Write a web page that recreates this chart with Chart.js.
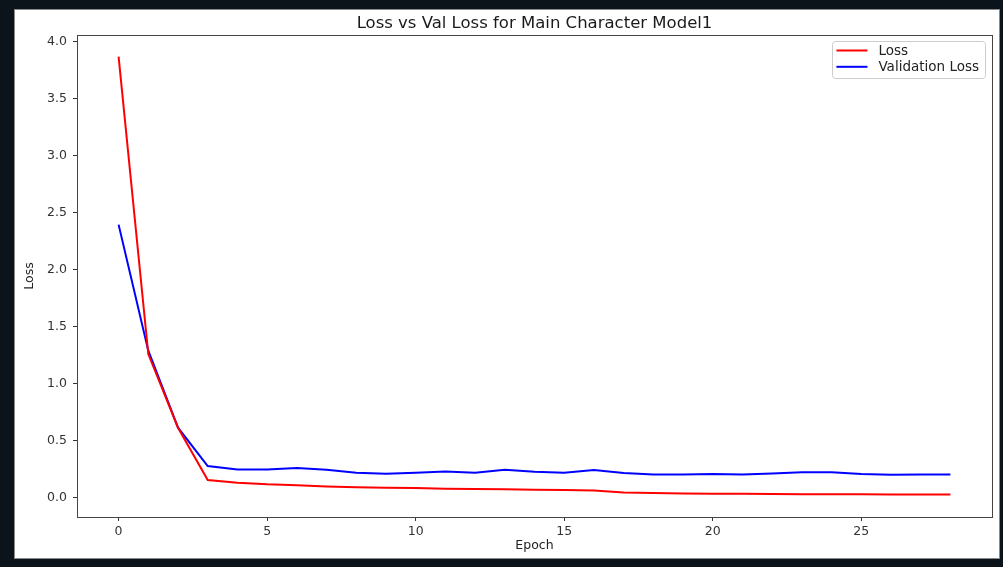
<!DOCTYPE html>
<html><head><meta charset="utf-8">
<script src="https://cdn.jsdelivr.net/npm/chart.js@4.4.1/dist/chart.umd.min.js"></script>
<style>
html,body{margin:0;padding:0;background:#0b141b;width:1003px;height:567px;overflow:hidden}
#frame{position:absolute;left:14px;top:9px;width:986px;height:550px;background:#fff;box-shadow:inset 0 0 0 1px #8a8a8a}
#c{position:absolute;left:14px;top:9px}
</style></head><body>
<div id="frame"></div>
<canvas id="c" width="986" height="550"></canvas>
<script>
const epochs = [0,1,2,3,4,5,6,7,8,9,10,11,12,13,14,15,16,17,18,19,20,21,22,23,24,25,26,27,28];
const loss = [3.866,1.26,0.615,0.157,0.134,0.119,0.112,0.100,0.093,0.089,0.086,0.081,0.078,0.075,0.072,0.069,0.066,0.048,0.043,0.039,0.037,0.036,0.034,0.033,0.033,0.032,0.031,0.030,0.030];
const valLoss = [2.394,1.29,0.615,0.279,0.250,0.250,0.262,0.247,0.221,0.212,0.221,0.232,0.221,0.247,0.230,0.221,0.244,0.218,0.206,0.206,0.209,0.206,0.215,0.224,0.224,0.209,0.203,0.205,0.206];
const xTicks = [0,5,10,15,20,25];
const yTicks = [0,0.5,1.0,1.5,2.0,2.5,3.0,3.5,4.0];
const seriesNames = ['Loss','Validation Loss'];
const titleText = 'Loss vs Val Loss for Main Character Model1';

const FONT = "'DejaVu Sans', sans-serif";

const framePlugin = {
  id: 'frame',
  afterDraw(chart) {
    const {ctx, chartArea: ca} = chart;
    ctx.save();
    ctx.strokeStyle = '#444';
    ctx.lineWidth = 1;
    ctx.strokeRect(Math.round(ca.left) + 0.5, Math.round(ca.top) + 0.5,
                   Math.round(ca.right) - Math.round(ca.left), Math.round(ca.bottom) - Math.round(ca.top));
    ctx.restore();
  }
};

const legendPlugin = {
  id: 'boxLegend',
  afterDraw(chart) {
    const {ctx, chartArea: ca} = chart;
    const items = chart.data.datasets;
    ctx.save();
    ctx.font = '13.5px ' + FONT;
    const tw = Math.max(...items.map(d => ctx.measureText(d.label).width));
    const w = 4 + 31 + 11 + tw + 6, h = 37;
    const x = ca.right - 7 - w, y = ca.top + 6;
    ctx.beginPath();
    ctx.roundRect(Math.round(x) + 0.5, Math.round(y) + 0.5, Math.round(w), h, 3);
    ctx.fillStyle = 'rgba(255,255,255,0.8)';
    ctx.fill();
    ctx.strokeStyle = '#cccccc';
    ctx.lineWidth = 1;
    ctx.stroke();
    items.forEach((d, i) => {
      const cy = y + 9.5 + i * 16.3;
      ctx.beginPath();
      ctx.moveTo(x + 4, cy);
      ctx.lineTo(x + 35, cy);
      ctx.strokeStyle = d.borderColor;
      ctx.lineWidth = 2;
      ctx.stroke();
      ctx.fillStyle = '#222';
      ctx.textBaseline = 'middle';
      ctx.textAlign = 'left';
      ctx.fillText(d.label, x + 46, cy + 0.5);
    });
    ctx.restore();
  }
};

new Chart(document.getElementById('c'), {
  type: 'line',
  data: {
    datasets: [
      { label: seriesNames[0], data: epochs.map((e, i) => ({x: e, y: loss[i]})),
        borderColor: '#ff0000', borderWidth: 2, pointRadius: 0, tension: 0, fill: false },
      { label: seriesNames[1], data: epochs.map((e, i) => ({x: e, y: valLoss[i]})),
        borderColor: '#0000ff', borderWidth: 2, pointRadius: 0, tension: 0, fill: false }
    ]
  },
  options: {
    responsive: false,
    animation: false,
    devicePixelRatio: 1,
    layout: { padding: { left: 0, right: 8, top: 0, bottom: 0 } },
    plugins: {
      legend: { display: false },
      tooltip: { enabled: false },
      title: { display: true, fullSize: false, text: titleText, color: '#1a1a1a',
        font: { family: FONT, size: 16.5, weight: 'normal', lineHeight: 1.2 },
        padding: { top: 4.9, bottom: 1.3 } }
    },
    scales: {
      x: {
        type: 'linear', min: -1.4, max: 29.4,
        afterBuildTicks: s => { s.ticks = xTicks.map(v => ({ value: v })); },
        afterFit: s => { s.height = 42; },
        grid: { drawOnChartArea: false, drawTicks: true, tickLength: 4, tickColor: '#333' },
        border: { display: true, color: '#444', width: 1 },
        ticks: { color: '#333', font: { family: FONT, size: 12.5 }, padding: 3, maxRotation: 0, autoSkip: false },
        title: { display: true, text: 'Epoch', color: '#222', font: { family: FONT, size: 12.5, lineHeight: 1.2 }, padding: { top: 0, bottom: 5.5 } }
      },
      y: {
        type: 'linear', min: -0.167, max: 4.055,
        afterBuildTicks: s => { s.ticks = yTicks.map(v => ({ value: v })); },
        afterFit: s => { s.width = 63; },
        grid: { drawOnChartArea: false, drawTicks: true, tickLength: 4, tickColor: '#333' },
        border: { display: true, color: '#444', width: 1 },
        ticks: { color: '#333', font: { family: FONT, size: 12.5 }, padding: 6, autoSkip: false,
          callback: v => Number(v).toFixed(1) },
        title: { display: true, text: 'Loss', color: '#222', font: { family: FONT, size: 12.5, lineHeight: 1.2 }, padding: { top: 8, bottom: 0 } }
      }
    }
  },
  plugins: [framePlugin, legendPlugin]
});
</script>
</body></html>
